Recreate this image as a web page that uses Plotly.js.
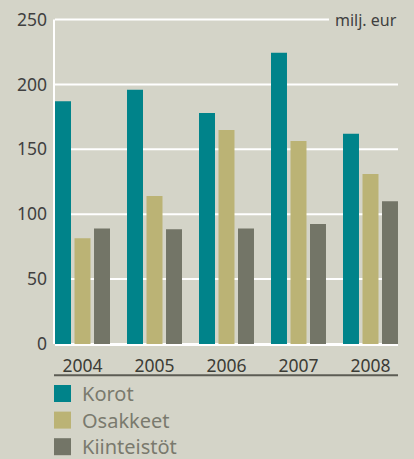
<!DOCTYPE html>
<html>
<head>
<meta charset="utf-8">
<script src="https://cdn.plot.ly/plotly-3.0.1.min.js"></script>
<style>
html,body{margin:0;padding:0;background:#d4d4c8;}
#chart{width:414px;height:459px;}
</style>
</head>
<body>
<div id="chart"></div>
<script>
// ---- data ----
const years = ['2004', '2005', '2006', '2007', '2008'];
const seriesNames = ['Korot', 'Osakkeet', 'Kiinteistöt'];
const korot = [187, 196, 178, 224.5, 162];
const osakkeet = [81.5, 114, 165, 156.5, 131];
const kiinteistot = [89, 88.5, 89, 92.5, 110];
const yTicks = [0, 50, 100, 150, 200, 250];
const unitLabel = 'milj. eur';

// ---- styles ----
const colors = ['#00838a', '#bbb375', '#737567'];
const bg = '#d4d4c8';
const font = 'Noto Sans, Open Sans, sans-serif';

const values = [korot, osakkeet, kiinteistot];
const traces = values.map((v, i) => ({
  type: 'bar',
  name: seriesNames[i],
  x: years,
  y: v,
  marker: {color: colors[i], line: {width: 0}},
  showlegend: false,
  hoverinfo: 'x+y+name'
}));

// plot area pixel geometry (y range extended slightly so the 250 line is not clipped)
const W = 414, H = 459;
const yMax = 252;
const mL = 55, mR = 16, mB = 115;
const pxPerUnit = 324 / 250;
const mT = Math.round(H - mB - yMax * pxPerUnit);
const plotW = W - mL - mR, plotH = H - mT - mB;
const px2x = p => (p - mL) / plotW;
const py2y = p => (H - mB - p) / plotH;

const shapes = [];
const annotations = [];

// white gridlines (the top one stops before the unit label)
yTicks.forEach((v, i) => {
  if (v === 0) return;
  const last = i === yTicks.length - 1;
  shapes.push({
    type: 'line', xref: 'paper', yref: 'y', layer: 'below',
    x0: 0, x1: last ? px2x(329) : 1, y0: v, y1: v,
    line: {color: '#ffffff', width: 2}
  });
});

// dark rule below the year labels
shapes.push({
  type: 'line', xref: 'paper', yref: 'paper',
  x0: px2x(54), x1: px2x(398), y0: py2y(375.2), y1: py2y(375.2),
  line: {color: '#5c5c54', width: 2}
});

// legend built from series names
seriesNames.forEach((name, i) => {
  const top = 385 + i * 26.6;
  shapes.push({
    type: 'rect', xref: 'paper', yref: 'paper',
    x0: px2x(54), x1: px2x(71), y0: py2y(top + 17), y1: py2y(top),
    fillcolor: colors[i], line: {width: 0}
  });
  annotations.push({
    xref: 'paper', yref: 'paper',
    x: px2x(80), y: py2y(top + 8.5),
    xanchor: 'left', yanchor: 'middle',
    text: name, showarrow: false,
    font: {family: font, size: 20, color: '#7a7a6e'}
  });
});

// unit label at the end of the top gridline
annotations.push({
  xref: 'paper', yref: 'y',
  x: px2x(399), y: 250, xanchor: 'right', yanchor: 'middle',
  text: unitLabel, showarrow: false,
  font: {family: font, size: 16, color: '#404040'}
});

const layout = {
  width: W, height: H,
  margin: {l: mL, r: mR, t: mT, b: mB, pad: 0},
  paper_bgcolor: bg,
  plot_bgcolor: bg,
  barmode: 'group',
  bargap: 0.1875,
  bargroupgap: 0.18,
  font: {family: font, color: '#404040'},
  xaxis: {
    type: 'category',
    range: [-0.382, 4.382],
    showgrid: false,
    zeroline: false,
    showline: false,
    ticks: '',
    ticklabelstandoff: 9,
    tickfont: {family: font, size: 17.5, color: '#3c3c36'},
    fixedrange: true
  },
  yaxis: {
    range: [0, yMax],
    tickvals: yTicks,
    ticktext: yTicks.map(String),
    showgrid: false,
    zeroline: true,
    zerolinecolor: '#ffffff',
    zerolinewidth: 3,
    showline: false,
    ticks: '',
    ticklabelstandoff: 7,
    tickfont: {family: font, size: 17.5, color: '#404040'},
    fixedrange: true
  },
  shapes: shapes.concat([{
    // white y-axis line from 0 to 250
    type: 'line', xref: 'paper', yref: 'y', layer: 'above',
    x0: px2x(54), x1: px2x(54), y0: 0, y1: 250,
    line: {color: '#ffffff', width: 2}
  }]),
  annotations: annotations,
  showlegend: false
};

Plotly.newPlot('chart', traces, layout, {displayModeBar: false, staticPlot: true});
</script>
</body>
</html>
